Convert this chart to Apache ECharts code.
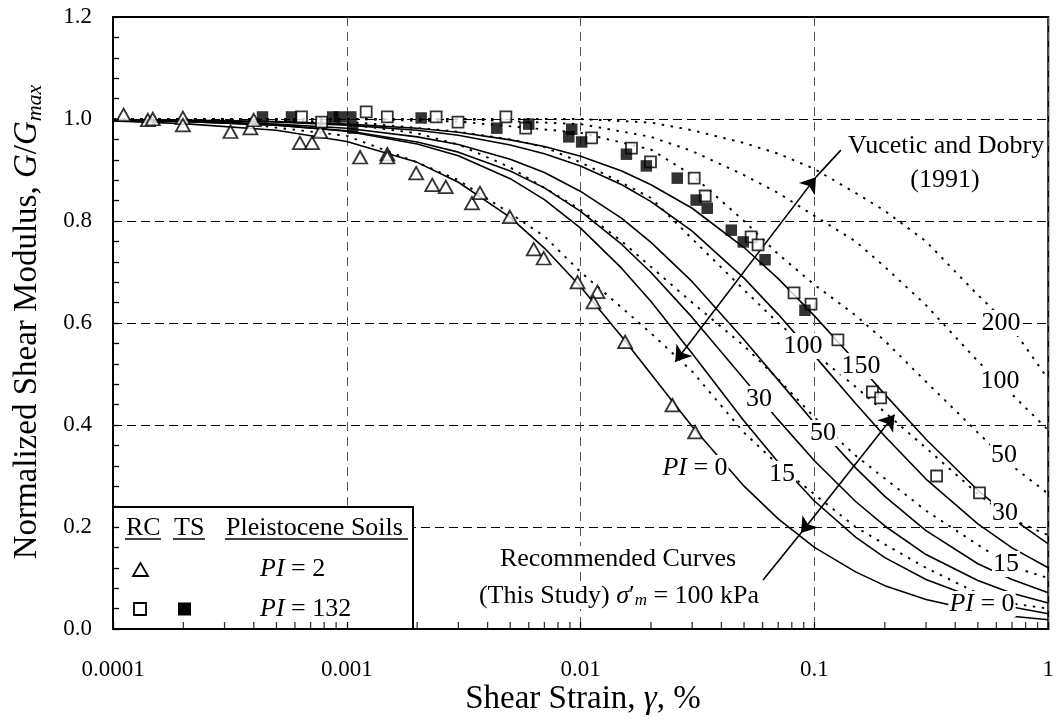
<!DOCTYPE html>
<html><head><meta charset="utf-8">
<script src="https://cdn.jsdelivr.net/npm/echarts@6/dist/echarts.min.js"></script>
<style>html,body{margin:0;padding:0;background:#fff}#c{width:1057px;height:721px}</style>
</head><body><div id="c"></div>
<script>
// ---------- data (strain %, G/Gmax) ----------
const xTickLabels = ['0.0001', '0.001', '0.01', '0.1', '1'];
const yTickLabels = ['0.0', '0.2', '0.4', '0.6', '0.8', '1.0', '1.2'];
const xMinorTicks = [0.0002,0.0003,0.0004,0.0005,0.0006,0.0007,0.0008,0.0009,
  0.002,0.003,0.004,0.005,0.006,0.007,0.008,0.009,
  0.02,0.03,0.04,0.05,0.06,0.07,0.08,0.09,
  0.2,0.3,0.4,0.5,0.6,0.7,0.8,0.9];

// Recommended curves (this study), sigma'm = 100 kPa
const recPI0 = [[0.0001,0.996],[0.0002,0.991],[0.0005,0.978],[0.001,0.956],[0.002,0.915],[0.003,0.876],[0.005,0.807],[0.007,0.747],[0.01,0.671],[0.015,0.573],[0.02,0.5],[0.03,0.397],[0.05,0.28],[0.07,0.216],[0.1,0.16],[0.15,0.112],[0.2,0.085],[0.3,0.058],[0.5,0.035],[0.7,0.025],[1,0.018]];
const recPI15 = [[0.0001,0.998],[0.0002,0.995],[0.0005,0.988],[0.001,0.976],[0.002,0.951],[0.003,0.928],[0.005,0.883],[0.007,0.842],[0.01,0.786],[0.015,0.707],[0.02,0.642],[0.03,0.54],[0.05,0.408],[0.07,0.327],[0.1,0.251],[0.15,0.18],[0.2,0.14],[0.3,0.097],[0.5,0.059],[0.7,0.043],[1,0.03]];
const recPI30 = [[0.0001,0.997],[0.0002,0.995],[0.0005,0.988],[0.001,0.977],[0.002,0.955],[0.003,0.935],[0.005,0.898],[0.007,0.865],[0.01,0.819],[0.015,0.754],[0.02,0.699],[0.03,0.611],[0.05,0.49],[0.07,0.41],[0.1,0.33],[0.15,0.25],[0.2,0.202],[0.3,0.146],[0.5,0.095],[0.7,0.07],[1,0.051]];
const recPI50 = [[0.0001,0.998],[0.0002,0.996],[0.0005,0.99],[0.001,0.982],[0.002,0.965],[0.003,0.95],[0.005,0.921],[0.007,0.895],[0.01,0.858],[0.015,0.805],[0.02,0.758],[0.03,0.681],[0.05,0.567],[0.07,0.488],[0.1,0.404],[0.15,0.316],[0.2,0.26],[0.3,0.193],[0.5,0.128],[0.7,0.097],[1,0.071]];
const recPI100 = [[0.0001,0.999],[0.0002,0.997],[0.0005,0.994],[0.001,0.988],[0.002,0.978],[0.003,0.968],[0.005,0.949],[0.007,0.932],[0.01,0.908],[0.015,0.871],[0.02,0.838],[0.03,0.78],[0.05,0.688],[0.07,0.617],[0.1,0.536],[0.15,0.442],[0.2,0.378],[0.3,0.294],[0.5,0.206],[0.7,0.159],[1,0.12]];
const recPI150 = [[0.0001,0.999],[0.0002,0.998],[0.0005,0.995],[0.001,0.99],[0.002,0.982],[0.003,0.974],[0.005,0.959],[0.007,0.946],[0.01,0.927],[0.015,0.898],[0.02,0.871],[0.03,0.825],[0.05,0.748],[0.07,0.687],[0.1,0.614],[0.15,0.525],[0.2,0.46],[0.3,0.372],[0.5,0.272],[0.7,0.217],[1,0.167]];

// Vucetic and Dobry (1991)
const vdPI0 = [[0.0001,1.0],[0.0003,0.995],[0.001,0.967],[0.002,0.915],[0.003,0.88],[0.005,0.815],[0.007,0.77],[0.01,0.70],[0.02,0.58],[0.03,0.505],[0.05,0.385],[0.07,0.322],[0.1,0.264],[0.15,0.20],[0.2,0.166],[0.3,0.12],[0.5,0.07],[0.7,0.05],[1,0.04]];
const vdPI15 = [[0.0001,1.0],[0.0003,0.998],[0.001,0.99],[0.002,0.972],[0.003,0.95],[0.005,0.905],[0.007,0.865],[0.01,0.822],[0.015,0.76],[0.02,0.71],[0.03,0.64],[0.05,0.555],[0.07,0.49],[0.1,0.415],[0.15,0.34],[0.2,0.295],[0.3,0.232],[0.5,0.165],[0.7,0.122],[1,0.10]];
const vdPI30 = [[0.0001,1.0],[0.001,0.995],[0.003,0.975],[0.005,0.96],[0.007,0.945],[0.01,0.915],[0.015,0.875],[0.02,0.845],[0.03,0.765],[0.05,0.665],[0.07,0.6],[0.1,0.54],[0.15,0.475],[0.2,0.425],[0.3,0.355],[0.5,0.265],[0.7,0.215],[1,0.184]];
const vdPI50 = [[0.0001,1.0],[0.001,1.0],[0.003,0.995],[0.01,0.973],[0.02,0.94],[0.03,0.89],[0.05,0.80],[0.07,0.735],[0.1,0.675],[0.15,0.615],[0.2,0.565],[0.3,0.485],[0.5,0.385],[0.7,0.32],[1,0.265]];
const vdPI100 = [[0.0001,1.0],[0.003,1.0],[0.01,0.99],[0.02,0.965],[0.03,0.937],[0.05,0.89],[0.07,0.855],[0.1,0.81],[0.15,0.76],[0.2,0.71],[0.3,0.635],[0.5,0.525],[0.7,0.46],[1,0.39]];
const vdPI200 = [[0.0001,1.0],[0.01,1.0],[0.02,0.993],[0.03,0.978],[0.05,0.953],[0.07,0.932],[0.1,0.902],[0.15,0.855],[0.2,0.82],[0.3,0.76],[0.5,0.655],[0.7,0.59],[1,0.49]];

// Pleistocene soils test data
const rcPI2 = [[0.000111,1.008],[0.000141,0.998],[0.000148,1.0],[0.000199,1.002],[0.000199,0.988],[0.000318,0.975],[0.000387,0.982],[0.0004,0.998],[0.00063,0.953],[0.00071,0.953],[0.00077,0.975],[0.00114,0.925],[0.00149,0.931],[0.00149,0.925],[0.00198,0.894],[0.00232,0.871],[0.00265,0.867],[0.00343,0.835],[0.00371,0.855],[0.00498,0.808],[0.0063,0.745],[0.00695,0.727],[0.0097,0.68],[0.0118,0.661],[0.01135,0.641],[0.0155,0.563],[0.0247,0.439],[0.0309,0.386]];
const rcPI132 = [[0.00064,1.004],[0.00078,0.994],[0.00121,1.014],[0.00149,1.004],[0.00241,1.004],[0.00299,0.994],[0.00479,1.004],[0.00582,0.982],[0.01114,0.963],[0.0165,0.943],[0.0199,0.916],[0.0306,0.884],[0.0341,0.849],[0.0536,0.769],[0.0574,0.753],[0.0818,0.659],[0.0967,0.637],[0.126,0.567],[0.177,0.465],[0.192,0.453],[0.333,0.300],[0.508,0.267]];
const tsPI132 = [[0.000436,1.004],[0.00058,1.004],[0.00087,1.004],[0.00093,1.004],[0.00104,1.004],[0.00106,0.982],[0.00208,1.002],[0.00438,0.982],[0.0060,0.99],[0.0089,0.965],[0.00916,0.98],[0.0101,0.955],[0.0157,0.931],[0.0191,0.908],[0.0259,0.884],[0.0312,0.841],[0.0348,0.825],[0.0441,0.782],[0.0496,0.759],[0.0615,0.724],[0.0911,0.625]];

// annotation arrows (data coordinates)
const vdArrow = [[0.0254,0.524],[0.1015,0.886],[0.1297,0.939]];
const recArrow = [[0.0876,0.188],[0.220,0.42],[0.0603,0.096]];

// ---------- chart ----------
const F = '"Liberation Serif", "Times New Roman", Times, serif';
const chart = echarts.init(document.getElementById('c'), null, {renderer: 'canvas'});

function curve(name, data, dotted) {
  return {
    name: name, type: 'line', data: data, showSymbol: false, symbol: 'none', smooth: false,
    silent: true, z: dotted ? 2 : 3,
    lineStyle: dotted ? {color: '#000', width: 1.9, type: [2.5, 6.5], cap: 'butt'}
                      : {color: '#000', width: 1.6, type: 'solid'}
  };
}

function txt(x, y, text, opt) {
  opt = opt || {};
  return {
    type: 'text', x: x, y: y, z: opt.z || 40, silent: true,
    style: {
      text: text, fontFamily: F, fontSize: opt.size || 26, fill: '#000',
      align: opt.align || 'center', verticalAlign: 'middle',
      backgroundColor: opt.bg === false ? 'transparent' : '#fff',
      padding: opt.pad || [0, 1],
      rich: {
        i: {fontFamily: F, fontStyle: 'italic', fontSize: opt.size || 26, fill: '#000'},
        s: {fontFamily: F, fontStyle: 'italic', fontSize: 17, fill: '#000', verticalAlign: 'bottom', lineHeight: 18},
        n: {fontFamily: F, fontSize: opt.size || 26, fill: '#000', lineHeight: 30}
      }
    }
  };
}

const series = [
  curve('vd200', vdPI200, true), curve('vd100', vdPI100, true), curve('vd50', vdPI50, true),
  curve('vd30', vdPI30, true), curve('vd15', vdPI15, true), curve('vd0', vdPI0, true),
  curve('rec150', recPI150, false), curve('rec100', recPI100, false), curve('rec50', recPI50, false),
  curve('rec30', recPI30, false), curve('rec15', recPI15, false),
  Object.assign(curve('rec0', recPI0, false), {
    markLine: {
      silent: true, animation: false, symbol: ['none', 'none'], symbolSize: 15,
      label: {show: false}, emphasis: {disabled: true},
      lineStyle: {color: '#000', width: 1.6, type: 'solid'},
      data: [
        [{coord: vdArrow[0], symbol: 'arrow'}, {coord: vdArrow[1], symbol: 'arrow'}],
        [{coord: vdArrow[1], symbol: 'none'}, {coord: vdArrow[2], symbol: 'none'}],
        [{coord: recArrow[0], symbol: 'arrow'}, {coord: recArrow[1], symbol: 'arrow'}],
        [{coord: recArrow[2], symbol: 'none'}, {coord: recArrow[0], symbol: 'none'}]
      ]
    }
  }),
  {type: 'scatter', name: 'RC PI=2', data: rcPI2, symbol: 'triangle', symbolSize: [14, 12.5], z: 5,
   itemStyle: {color: '#fff', borderColor: '#000', borderWidth: 1.8}},
  {type: 'scatter', name: 'RC PI=132', data: rcPI132, symbol: 'rect', symbolSize: 11, z: 5,
   itemStyle: {color: '#fff', borderColor: '#000', borderWidth: 1.8}},
  {type: 'scatter', name: 'TS PI=132', data: tsPI132, symbol: 'rect', symbolSize: 11.5, z: 6,
   itemStyle: {color: '#000'}},
  {type: 'scatter', name: 'minorTicks', data: xMinorTicks.map(v => [v, 0]), symbol: 'rect',
   symbolSize: [1.3, 7], symbolOffset: [0, -3.5], z: 60, silent: true, clip: false,
   itemStyle: {color: '#000'}}
];

const xLabelFmt = v => xTickLabels[Math.round(Math.log10(v)) + 4] || '';
const yLabelFmt = v => yTickLabels[Math.round(v / 0.2)] || '';

const graphic = [
  // legend box
  {type: 'rect', z: 50, silent: true, shape: {x: 113, y: 507, width: 300, height: 122},
   style: {fill: '#fff', stroke: '#000', lineWidth: 2}},
  txt(125, 528, 'RC', {align: 'left', z: 51, bg: false}),
  txt(173, 528, 'TS', {align: 'left', z: 51, bg: false}),
  txt(225, 528, 'Pleistocene Soils', {align: 'left', z: 51, bg: false}),
  {type: 'line', z: 51, silent: true, shape: {x1: 125, y1: 539, x2: 161, y2: 539}, style: {stroke: '#000', lineWidth: 1.5}},
  {type: 'line', z: 51, silent: true, shape: {x1: 173, y1: 539, x2: 205, y2: 539}, style: {stroke: '#000', lineWidth: 1.5}},
  {type: 'line', z: 51, silent: true, shape: {x1: 225, y1: 539, x2: 408, y2: 539}, style: {stroke: '#000', lineWidth: 1.5}},
  {type: 'polygon', z: 51, silent: true, shape: {points: [[140.5, 563], [133, 576], [148, 576]]},
   style: {fill: '#fff', stroke: '#000', lineWidth: 1.8}},
  txt(259, 569, '{i|PI} = 2', {align: 'left', z: 51, bg: false}),
  {type: 'rect', z: 51, silent: true, shape: {x: 134, y: 603, width: 12, height: 12},
   style: {fill: '#fff', stroke: '#000', lineWidth: 1.8}},
  {type: 'rect', z: 51, silent: true, shape: {x: 178, y: 602.5, width: 13, height: 13},
   style: {fill: '#000'}},
  txt(259, 609, '{i|PI} = 132', {align: 'left', z: 51, bg: false}),

  // annotations
  txt(847, 146, 'Vucetic and Dobry', {align: 'left'}),
  txt(945, 180, '(1991)'),
  txt(618, 559, 'Recommended Curves'),
  txt(619, 596, '(This Study) {i|σ}′{s|m} = 100 kPa'),

  // recommended curve labels
  txt(695, 468, '{i|PI} = 0'),
  txt(782, 474, '15'),
  txt(759, 399, '30'),
  txt(823, 433, '50'),
  txt(803, 346, '100'),
  txt(861, 366, '150'),
  // V&D labels
  txt(1001, 323, '200'),
  txt(1000, 381, '100'),
  txt(1004, 455, '50'),
  txt(1005, 513, '30'),
  txt(1006, 564, '15'),
  txt(982, 604, '{i|PI} = 0'),

  // axis titles
  {type: 'text', x: 583, y: 699, z: 40, silent: true,
   style: {text: 'Shear Strain, {i|γ}, %', fontFamily: F, fontSize: 33, fill: '#000', align: 'center', verticalAlign: 'middle',
     rich: {i: {fontFamily: F, fontStyle: 'italic', fontSize: 33, fill: '#000'}}}},
  {type: 'text', x: 27, y: 322, rotation: Math.PI / 2, z: 40, silent: true,
   style: {text: '{n|Normalized Shear Modulus, }{i|G}{n|/}{i|G}{s|max}', fontFamily: F, fontSize: 33, fill: '#000',
     align: 'center', verticalAlign: 'middle',
     rich: {
       n: {fontFamily: F, fontSize: 33, fill: '#000', lineHeight: 38, verticalAlign: 'middle'},
       i: {fontFamily: F, fontStyle: 'italic', fontSize: 33, fill: '#000', lineHeight: 38, verticalAlign: 'middle'},
       s: {fontFamily: F, fontStyle: 'italic', fontSize: 22, fill: '#000', lineHeight: 22, verticalAlign: 'bottom'}
     }}}
];

chart.setOption({
  animation: false,
  backgroundColor: '#fff',
  grid: {left: 113, top: 17, right: 6, bottom: 92, show: true, borderColor: '#000', borderWidth: 2, backgroundColor: 'transparent'},
  xAxis: [
    {type: 'log', logBase: 10, min: 0.0001, max: 1, position: 'bottom', z: 0,
     axisLine: {show: false}, axisTick: {show: false}, axisLabel: {show: false},
     splitLine: {show: true, lineStyle: {color: '#555', width: 1, type: [9, 6]}}},
    {type: 'log', logBase: 10, min: 0.0001, max: 1, position: 'bottom', z: 100,
     axisLine: {show: true, onZero: false, lineStyle: {color: '#000', width: 2}},
     axisTick: {show: true, inside: true, length: 7, lineStyle: {color: '#000', width: 1.3}},
     axisLabel: {formatter: xLabelFmt, fontFamily: F, fontSize: 23, color: '#000', margin: 29},
     splitLine: {show: false}}
  ],
  yAxis: [
    {type: 'value', min: 0, max: 1.2, interval: 0.2, position: 'left', z: 0,
     axisLine: {show: false}, axisTick: {show: false}, axisLabel: {show: false},
     splitLine: {show: true, lineStyle: {color: '#000', width: 1, type: [9, 5]}}},
    {type: 'value', min: 0, max: 1.2, interval: 0.2, position: 'left', offset: 0, z: 100,
     axisLine: {show: true, onZero: false, lineStyle: {color: '#000', width: 2}},
     axisTick: {show: true, inside: true, length: 6, lineStyle: {color: '#000', width: 1.3}},
     minorTick: {show: true, splitNumber: 5, length: 6, lineStyle: {color: '#000', width: 1.3}},
     axisLabel: {formatter: yLabelFmt, fontFamily: F, fontSize: 23, color: '#000', margin: 21, padding: [6, 0, 0, 0]},
     splitLine: {show: false}}
  ],
  series: series,
  graphic: graphic
});
</script>
</body></html>
